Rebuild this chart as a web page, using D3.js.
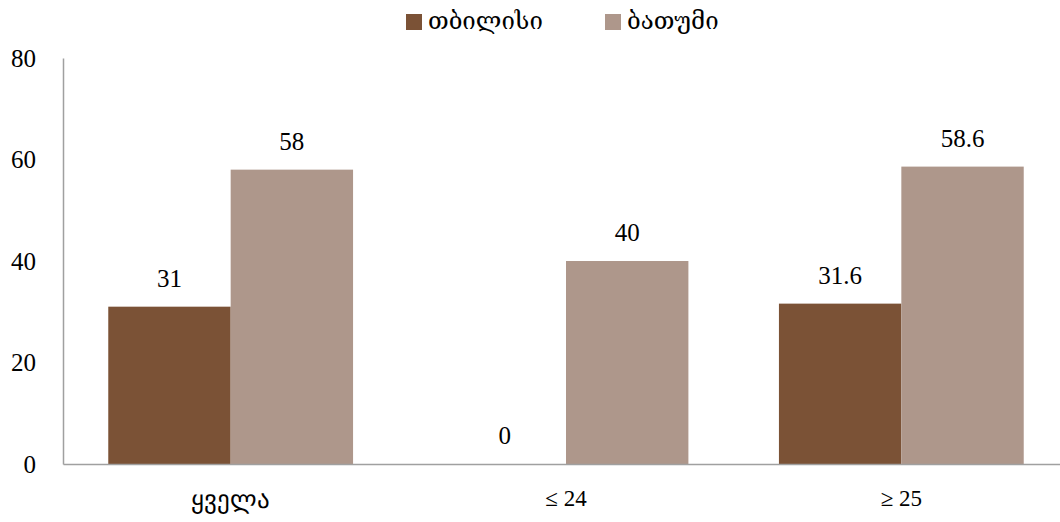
<!DOCTYPE html>
<html>
<head>
<meta charset="utf-8">
<script src="https://cdn.jsdelivr.net/npm/d3@7/dist/d3.min.js"></script>
<style>
  body { margin: 0; background: #fff; }
  svg { display: block; }
  text { font-family: "Liberation Serif", serif; fill: #000; }
  .geo { font-family: "DejaVu Serif", "DejaVu Sans", serif; font-weight: normal; }
</style>
</head>
<body>
<svg id="chart" width="1060" height="522"></svg>
<script>
const categories = ["ყველა", "≤ 24", "≥ 25"];
const seriesNames = ["თბილისი", "ბათუმი"];
const tbilisi = [31, 0, 31.6];
const batumi = [58, 40, 58.6];
const labelsTbilisi = ["31", "0", "31.6"];
const labelsBatumi = ["58", "40", "58.6"];
const yTicks = [0, 20, 40, 60, 80];
const colors = ["#7B5236", "#AE978B"];

const svg = d3.select("#chart");
const x0 = 63, x1 = 1069, yTop = 58, yBot = 464;
const numFont = "Liberation Serif, serif";
const geoFont = "DejaVu Serif, DejaVu Sans, serif";

const x = d3.scaleBand().domain(categories).range([x0, x1]).paddingInner(0.27).paddingOuter(0.135);
const xs = d3.scaleBand().domain(seriesNames).range([0, x.bandwidth()]);
const y = d3.scaleLinear().domain([0, 80]).range([yBot, yTop]);

const rows = categories.map((c, i) => ({ cat: c, vals: [
  { s: seriesNames[0], v: tbilisi[i], label: labelsTbilisi[i], color: colors[0] },
  { s: seriesNames[1], v: batumi[i], label: labelsBatumi[i], color: colors[1] }
]}));

const g = svg.selectAll("g.cat").data(rows).join("g")
  .attr("class", "cat")
  .attr("transform", d => `translate(${x(d.cat)},0)`);

g.selectAll("rect").data(d => d.vals).join("rect")
  .attr("x", d => xs(d.s))
  .attr("width", xs.bandwidth())
  .attr("y", d => y(d.v))
  .attr("height", d => y(0) - y(d.v))
  .attr("fill", d => d.color);

g.selectAll("text.val").data(d => d.vals).join("text")
  .attr("class", "val")
  .attr("x", d => xs(d.s) + xs.bandwidth() / 2)
  .attr("y", d => y(d.v) - 20)
  .attr("text-anchor", "middle")
  .attr("font-size", 25)
  .text(d => d.label);

// y axis
const yAxis = svg.append("g").attr("transform", `translate(${x0},0)`)
  .call(d3.axisLeft(y).tickValues(yTicks).tickSize(0).tickPadding(27));
yAxis.select(".domain").attr("stroke", "#a0a0a0").attr("stroke-width", 1.5);
yAxis.selectAll("text").attr("font-size", 25).attr("font-family", numFont).attr("fill", "#000");

// x axis
const xAxis = svg.append("g").attr("transform", `translate(0,${yBot})`)
  .call(d3.axisBottom(x).tickSize(0).tickPadding(26));
xAxis.select(".domain").attr("stroke", "#a0a0a0").attr("stroke-width", 1.5);
xAxis.selectAll("text").attr("fill", "#000")
  .attr("font-size", d => /[\u10A0-\u10FF]/.test(d) ? 25 : 23)
  .attr("font-family", d => /[\u10A0-\u10FF]/.test(d) ? geoFont : numFont);

// legend
const legendX = [406, 605];
const lg = svg.selectAll("g.legend").data(seriesNames).join("g")
  .attr("class", "legend")
  .attr("transform", (d, i) => `translate(${legendX[i]},14)`);
lg.append("rect").attr("width", 16).attr("height", 16).attr("fill", (d, i) => colors[i]);
lg.append("text").attr("class", "geo").attr("x", 22).attr("y", 15).attr("font-size", 24).text(d => d);
</script>
</body>
</html>
